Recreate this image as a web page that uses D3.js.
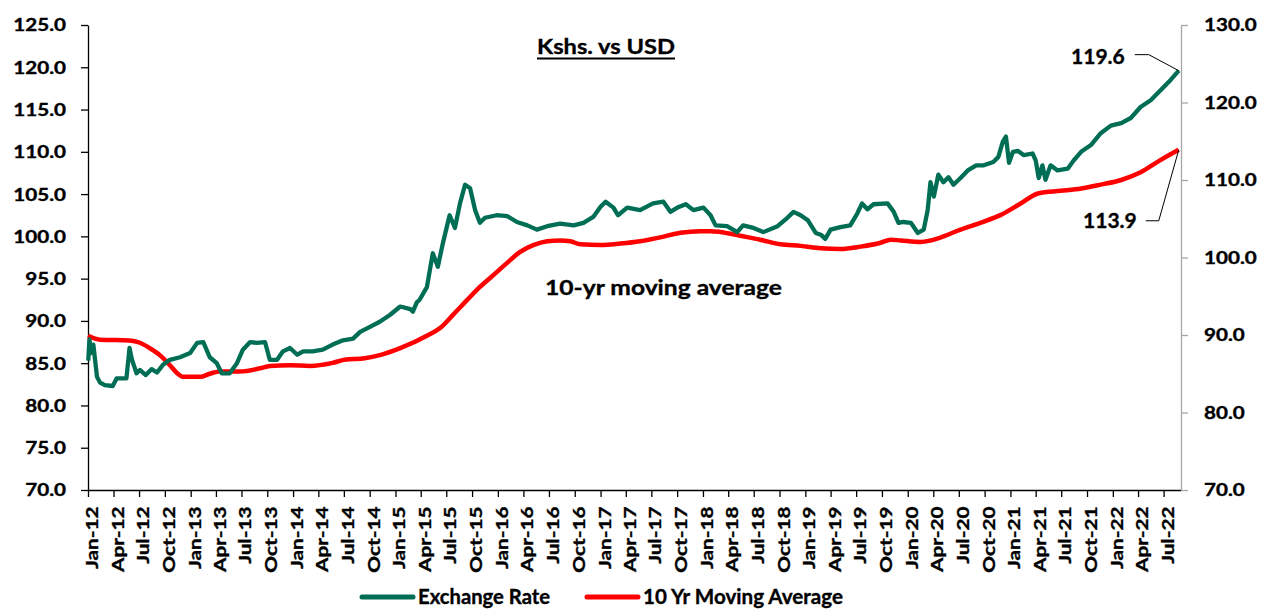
<!DOCTYPE html>
<html>
<head>
  <script src="https://d3js.org/d3.v7.min.js"></script>
  <style>
    body { margin: 0; background: #fff; }
    svg text { font-family: Lato, "Open Sans", sans-serif; font-weight: bold; fill: #000; stroke: #000; stroke-width: 0.35px; }
    .x-axis path, .x-axis line, .y-axis path, .y-axis line { stroke: #000; stroke-width: 1.3; }
    .y2-axis path, .y2-axis line { stroke: #a6a6a6; stroke-width: 1.3; }
  </style>
</head>
<body>
  <div id="chart"></div>
  <script>
    // Kshs vs USD exchange rate (left axis)
    var rateDates = [
      "2012-01-02","2012-01-06","2012-01-12","2012-01-20","2012-02-02","2012-02-13","2012-03-01","2012-03-29",
      "2012-04-12","2012-05-17","2012-05-28","2012-06-05","2012-06-22","2012-07-04","2012-07-25","2012-08-15",
      "2012-09-03","2012-09-24","2012-10-19","2012-11-24","2012-12-30","2013-01-24","2013-02-15","2013-03-10",
      "2013-04-04","2013-04-22","2013-05-20","2013-06-15","2013-07-06","2013-08-01","2013-08-25","2013-09-23",
      "2013-10-10","2013-11-05","2013-11-26","2013-12-21","2014-01-16","2014-02-06","2014-03-12","2014-04-17",
      "2014-05-22","2014-06-28","2014-08-03","2014-08-28","2014-10-02","2014-11-06","2014-12-12","2015-01-18",
      "2015-02-23","2015-03-04","2015-03-18","2015-03-28","2015-04-23","2015-05-14","2015-06-01","2015-06-19",
      "2015-07-13","2015-08-01","2015-08-19","2015-09-06","2015-09-24","2015-10-12","2015-10-29","2015-11-16",
      "2015-12-28","2016-02-03","2016-03-09","2016-04-15","2016-05-19","2016-06-25","2016-08-10","2016-09-27",
      "2016-11-01","2016-12-06","2017-01-01","2017-01-19","2017-02-16","2017-03-04","2017-04-06","2017-05-22",
      "2017-07-07","2017-08-13","2017-09-07","2017-10-02","2017-11-01","2017-11-28","2018-01-03","2018-01-28",
      "2018-02-15","2018-03-28","2018-05-03","2018-05-24","2018-06-30","2018-08-04","2018-09-24","2018-10-29",
      "2018-11-20","2018-12-15","2019-01-10","2019-02-07","2019-02-25","2019-03-13","2019-04-01","2019-05-06",
      "2019-06-10","2019-07-05","2019-07-22","2019-08-10","2019-09-01","2019-10-21","2019-11-12","2019-11-29",
      "2019-12-16","2020-01-12","2020-02-06","2020-02-27","2020-03-12","2020-03-22","2020-04-03","2020-04-19",
      "2020-05-07","2020-05-25","2020-06-12","2020-07-07","2020-08-02","2020-09-01","2020-09-28","2020-11-01",
      "2020-11-19","2020-12-05","2020-12-16","2020-12-27","2021-01-10","2021-01-28","2021-02-18","2021-03-21",
      "2021-04-01","2021-04-12","2021-04-25","2021-05-06","2021-05-24","2021-06-18","2021-07-24","2021-08-15",
      "2021-09-10","2021-10-15","2021-11-19","2021-12-25","2022-01-31","2022-03-06","2022-04-10","2022-05-16",
      "2022-06-21","2022-07-26","2022-08-24"
    ];
    var rateValues = [
      85.3, 87.8, 86.2, 87.2, 83.4, 82.7, 82.4, 82.3,
      83.2, 83.2, 86.8, 85.5, 83.8, 84.2, 83.6, 84.3,
      83.9, 84.8, 85.4, 85.7, 86.2, 87.4, 87.5, 85.7,
      85.0, 83.8, 83.8, 85.0, 86.6, 87.5, 87.4, 87.5,
      85.4, 85.4, 86.4, 86.8, 86.0, 86.4, 86.4, 86.6,
      87.2, 87.7, 87.9, 88.7, 89.3, 89.9, 90.7, 91.7,
      91.4, 91.1, 92.2, 92.5, 94.0, 98.0, 96.4, 99.2,
      102.5, 101.0, 103.9, 106.1, 105.7, 103.1, 101.6, 102.2,
      102.5, 102.4, 101.7, 101.3, 100.8, 101.2, 101.5, 101.3,
      101.6, 102.3, 103.5, 104.1, 103.4, 102.5, 103.4, 103.1,
      103.9, 104.1, 102.9, 103.4, 103.8, 103.1, 103.4, 102.5,
      101.3, 101.2, 100.5, 101.3, 101.0, 100.5, 101.2, 102.2,
      102.9, 102.5, 101.9, 100.4, 100.2, 99.7, 100.8, 101.1,
      101.3, 102.7, 103.9, 103.2, 103.8, 103.9, 102.9, 101.6,
      101.7, 101.6, 100.4, 100.8, 103.1, 106.4, 104.7, 107.3,
      106.4, 107.0, 106.1, 106.9, 107.8, 108.4, 108.4, 108.8,
      109.4, 111.2, 111.8, 108.7, 110.0, 110.1, 109.6, 109.8,
      109.0, 106.9, 108.4, 106.7, 108.4, 107.8, 108.0, 109.0,
      110.0, 110.8, 112.2, 113.1, 113.4, 114.0, 115.3, 116.1,
      117.3, 118.5, 119.6
    ];

    // 10 year moving average (right axis)
    var avgDates = [
      "2012-01-01","2012-02-13","2012-05-28","2012-07-04","2012-08-08","2012-09-13","2012-10-19","2012-11-13",
      "2012-12-04","2013-02-04","2013-03-10","2013-04-15","2013-06-26","2013-09-05","2013-10-10","2013-12-21",
      "2014-03-02","2014-05-22","2014-07-03","2014-09-13","2014-11-06","2015-01-18","2015-04-23","2015-06-09",
      "2015-07-25","2015-09-13","2015-10-29","2015-12-15","2016-02-03","2016-03-19","2016-05-06","2016-06-25",
      "2016-08-10","2016-09-15","2016-10-21","2017-01-01","2017-03-13","2017-05-22","2017-08-02","2017-10-13",
      "2017-12-22","2018-01-28","2018-03-03","2018-05-13","2018-07-24","2018-10-04","2018-12-15","2019-02-25",
      "2019-05-06","2019-07-16","2019-09-26","2019-11-01","2019-12-06","2020-02-16","2020-03-22","2020-04-28",
      "2020-07-07","2020-09-18","2020-11-28","2021-02-08","2021-04-12","2021-06-29","2021-09-10","2021-11-19",
      "2022-01-31","2022-04-10","2022-06-21","2022-08-24"
    ];
    var avgValues = [
      89.9, 89.4, 89.3, 89.0, 88.3, 87.4, 86.1, 85.1,
      84.6, 84.6, 85.0, 85.3, 85.3, 85.7, 86.0, 86.1,
      86.0, 86.4, 86.8, 87.0, 87.4, 88.3, 89.9, 90.9,
      92.6, 94.5, 96.2, 97.7, 99.3, 100.7, 101.6, 102.1,
      102.2, 102.1, 101.7, 101.6, 101.8, 102.1, 102.6, 103.2,
      103.4, 103.4, 103.3, 102.8, 102.3, 101.7, 101.5, 101.2,
      101.1, 101.4, 101.9, 102.3, 102.2, 102.0, 102.2, 102.6,
      103.6, 104.5, 105.5, 107.0, 108.3, 108.6, 108.9, 109.4,
      110.0, 111.0, 112.6, 113.9
    ];

    var leftTicks = [70, 75, 80, 85, 90, 95, 100, 105, 110, 115, 120, 125];
    var rightTicks = [70, 80, 90, 100, 110, 120, 130];
    var seriesNames = ["Exchange Rate", "10 Yr Moving Average"];
    var seriesColors = ["#006e55", "#ff0000"];

    var parse = d3.timeParse("%Y-%m-%d");
    var rate = rateDates.map(function(d, i) { return { date: parse(d), value: rateValues[i] }; });
    var avg = avgDates.map(function(d, i) { return { date: parse(d), value: avgValues[i] }; });

    var margin = { top: 25, right: 82, bottom: 119, left: 88 };
    var width = 1263 - margin.left - margin.right;
    var height = 609 - margin.top - margin.bottom;

    var root = d3.select("#chart")
      .append("svg")
      .attr("width", 1263)
      .attr("height", 609);

    var svg = root.append("g")
      .attr("transform", "translate(" + margin.left + "," + margin.top + ")");

    var x = d3.scaleTime()
      .domain([parse("2012-01-01"), parse("2022-09-01")])
      .range([0, width]);

    var yLeft = d3.scaleLinear().domain([70, 125]).range([height, 0]);
    var yRight = d3.scaleLinear().domain([70, 130]).range([height, 0]);

    // stretch text along its run so widths match the original
    function stretch(sel, k) {
      sel.each(function() {
        var w = this.getComputedTextLength();
        d3.select(this).attr("textLength", w * k).attr("lengthAdjust", "spacingAndGlyphs");
      });
    }
    function fitTo(sel, w) {
      sel.attr("textLength", w).attr("lengthAdjust", "spacingAndGlyphs");
    }

    // axes
    var xAxis = svg.append("g")
      .attr("class", "x-axis")
      .attr("transform", "translate(0," + height + ")")
      .call(d3.axisBottom(x)
        .ticks(d3.timeMonth.every(3))
        .tickFormat(d3.timeFormat("%b-%y"))
        .tickSize(7)
        .tickSizeOuter(0));
    xAxis.selectAll("text")
      .attr("transform", "rotate(-90)")
      .attr("x", -16.5)
      .attr("y", 9.5)
      .attr("dy", 0)
      .style("text-anchor", "end")
      .style("font-size", "17px");
    stretch(xAxis.selectAll("text"), 1.22);

    var yAxis = svg.append("g")
      .attr("class", "y-axis")
      .call(d3.axisLeft(yLeft)
        .tickValues(leftTicks)
        .tickFormat(d3.format(".1f"))
        .tickSize(7)
        .tickPadding(15)
        .tickSizeOuter(0));
    yAxis.selectAll("text").style("font-size", "16.5px").attr("dy", "0.36em");
    stretch(yAxis.selectAll("text"), 1.25);

    var y2Axis = svg.append("g")
      .attr("class", "y2-axis")
      .attr("transform", "translate(" + width + ",0)")
      .call(d3.axisRight(yRight)
        .tickValues(rightTicks)
        .tickFormat(d3.format(".1f"))
        .tickSize(7)
        .tickPadding(16)
        .tickSizeOuter(0));
    y2Axis.selectAll("text").style("font-size", "16.5px").attr("dy", "0.36em");
    stretch(y2Axis.selectAll("text"), 1.25);

    // lines
    var rateLine = d3.line()
      .x(function(d) { return x(d.date); })
      .y(function(d) { return yLeft(d.value); });

    var avgLine = d3.line()
      .curve(d3.curveMonotoneX)
      .x(function(d) { return x(d.date); })
      .y(function(d) { return yRight(d.value); });

    svg.append("path")
      .datum(avg)
      .attr("fill", "none")
      .attr("stroke", seriesColors[1])
      .attr("stroke-width", 4.5)
      .attr("stroke-linejoin", "round")
      .attr("d", avgLine);

    svg.append("path")
      .datum(rate)
      .attr("fill", "none")
      .attr("stroke", seriesColors[0])
      .attr("stroke-width", 4.3)
      .attr("stroke-linejoin", "round")
      .attr("d", rateLine);

    // end labels with leader lines
    var lastRate = rate[rate.length - 1];
    var rx = x(lastRate.date), ry = yLeft(lastRate.value);
    svg.append("polyline")
      .attr("points", [[rx - 44, ry - 16], [rx - 30, ry - 16], [rx, ry]].join(" "))
      .attr("fill", "none").attr("stroke", "#000").attr("stroke-width", 1);
    svg.append("text")
      .attr("x", rx - 54).attr("y", ry - 7)
      .attr("text-anchor", "end")
      .style("font-size", "21px")
      .text(d3.format(".1f")(lastRate.value));

    var lastAvg = avg[avg.length - 1];
    var ax = x(lastAvg.date), ay = yRight(lastAvg.value);
    svg.append("polyline")
      .attr("points", [[ax - 33, ay + 71], [ax - 20, ay + 71], [ax, ay]].join(" "))
      .attr("fill", "none").attr("stroke", "#000").attr("stroke-width", 1);
    svg.append("text")
      .attr("x", ax - 42).attr("y", ay + 78)
      .attr("text-anchor", "end")
      .style("font-size", "21px")
      .text(d3.format(".1f")(lastAvg.value));

    // chart title, underlined
    var title = svg.append("text")
      .attr("x", 518).attr("y", 29.3)
      .attr("text-anchor", "middle")
      .style("font-size", "21px")
      .text("Kshs. vs USD");
    fitTo(title, 138);
    svg.append("line")
      .attr("x1", 518 - 69).attr("x2", 518 + 69)
      .attr("y1", 33.5).attr("y2", 33.5)
      .attr("stroke", "#000").attr("stroke-width", 2);

    var note = svg.append("text")
      .attr("x", 457).attr("y", 270)
      .style("font-size", "21px")
      .text("10-yr moving average");
    fitTo(note, 237);

    // legend
    var legendX = [362, 587];
    var legend = root.append("g").attr("class", "legend");
    seriesNames.forEach(function(name, i) {
      legend.append("line")
        .attr("x1", legendX[i]).attr("x2", legendX[i] + 51)
        .attr("y1", 597).attr("y2", 597)
        .attr("stroke", seriesColors[i])
        .attr("stroke-width", 5)
        .attr("stroke-linecap", "round");
      var t = legend.append("text")
        .attr("x", legendX[i] + 56).attr("y", 603.5)
        .style("font-size", "20px")
        .text(name);
      fitTo(t, i === 0 ? 132 : 200);
    });
  </script>
</body>
</html>
